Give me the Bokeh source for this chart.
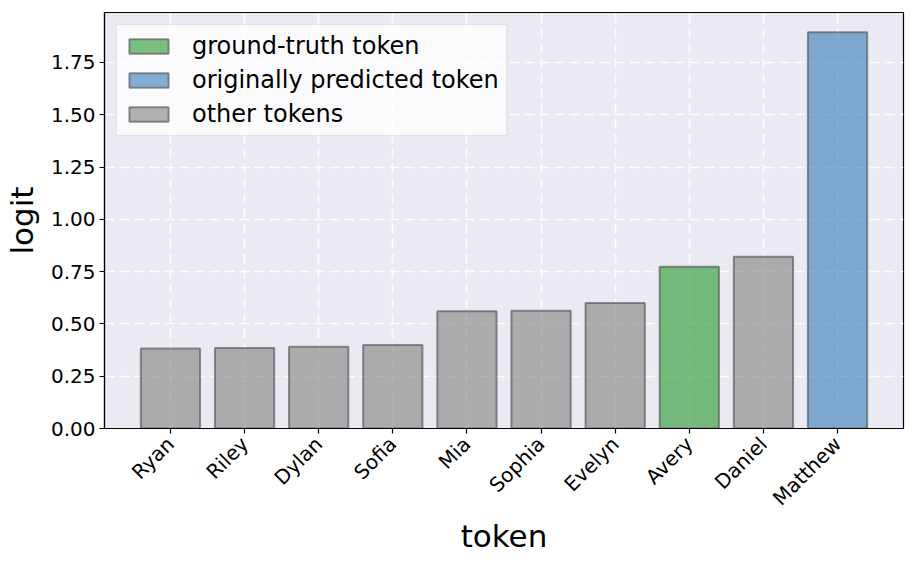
import math
from bokeh.plotting import figure
from bokeh.models import (Range1d, FixedTicker, NumeralTickFormatter, Legend, LegendItem,
                          ColumnDataSource)
from bokeh.embed import file_html
from bokeh.resources import INLINE

# ---- data ----
tokens = ["Ryan", "Riley", "Dylan", "Sofia", "Mia", "Sophia", "Evelyn", "Avery", "Daniel", "Matthew"]
logits = [0.382, 0.385, 0.391, 0.399, 0.560, 0.563, 0.600, 0.773, 0.821, 1.894]
roles = ["other", "other", "other", "other", "other", "other", "other", "truth", "other", "pred"]
y_ticks = [0.0, 0.25, 0.5, 0.75, 1.0, 1.25, 1.5, 1.75]

role_labels = {"truth": "ground-truth token", "pred": "originally predicted token", "other": "other tokens"}
role_colors = {"truth": "#27962c", "pred": "#367ab9", "other": "#808080"}
legend_order = ["truth", "pred", "other"]

FONT = "DejaVu Sans"
xs = list(range(len(tokens)))

p = figure(frame_width=799, frame_height=416, output_backend="svg", toolbar_location=None,
           x_range=Range1d(-0.89, len(tokens) - 1 + 0.89),
           y_range=Range1d(0, max(logits) * 1.05),
           min_border_left=95, min_border_top=12, min_border_right=4, min_border_bottom=124,
           background_fill_color="#eaeaf2", border_fill_color="white")

p.outline_line_color = "black"
p.outline_line_width = 1.2

renderers = {}
for role in legend_order:
    idx = [i for i, r in enumerate(roles) if r == role]
    src = ColumnDataSource(dict(x=[xs[i] for i in idx], top=[logits[i] for i in idx]))
    renderers[role] = p.vbar(x="x", top="top", width=0.8, source=src,
                             fill_color=role_colors[role], fill_alpha=0.6,
                             line_color="#4d4d4d", line_alpha=0.6, line_width=2)

legend = Legend(items=[LegendItem(label=role_labels[r], renderers=[renderers[r]]) for r in legend_order],
                location="top_left")
legend.margin = 12
legend.padding = 7
legend.spacing = 6
legend.glyph_width = 49
legend.glyph_height = 18
legend.label_standoff = 19
legend.label_text_font = FONT
legend.label_text_font_size = "24px"
legend.label_text_color = "black"
legend.background_fill_color = "white"
legend.background_fill_alpha = 0.8
legend.border_line_color = "#cccccc"
legend.border_line_width = 1
p.add_layout(legend)

# grid
for g in (p.xgrid, p.ygrid):
    g.grid_line_color = "white"
    g.grid_line_width = 1.6
    g.grid_line_dash = "10 5"
    g.grid_line_alpha = 0.9

# axes
p.xaxis.ticker = FixedTicker(ticks=xs)
p.xaxis.major_label_overrides = {i: t for i, t in zip(xs, tokens)}
p.xaxis.major_label_orientation = math.pi / 4
p.yaxis.ticker = FixedTicker(ticks=y_ticks)
p.yaxis.formatter = NumeralTickFormatter(format="0.00")

for ax in (p.xaxis[0], p.yaxis[0]):
    ax.axis_line_color = "black"
    ax.axis_line_width = 1.2
    ax.major_tick_line_color = "black"
    ax.major_tick_line_width = 1.2
    ax.major_tick_out = 5
    ax.major_tick_in = 0
    ax.minor_tick_line_color = None
    ax.major_label_text_font = FONT
    ax.major_label_text_font_size = "20px"
    ax.major_label_text_color = "black"
    ax.major_label_standoff = 4
    ax.axis_label_text_font = FONT
    ax.axis_label_text_font_size = "31px"
    ax.axis_label_text_font_style = "normal"
    ax.axis_label_text_color = "black"

p.xaxis.major_label_standoff = 7
p.xaxis.axis_label = "token"
p.yaxis.axis_label = "logit"
p.xaxis.axis_label_standoff = -4
p.yaxis.axis_label_standoff = 8

open("out.html", "w").write(file_html(p, INLINE))
